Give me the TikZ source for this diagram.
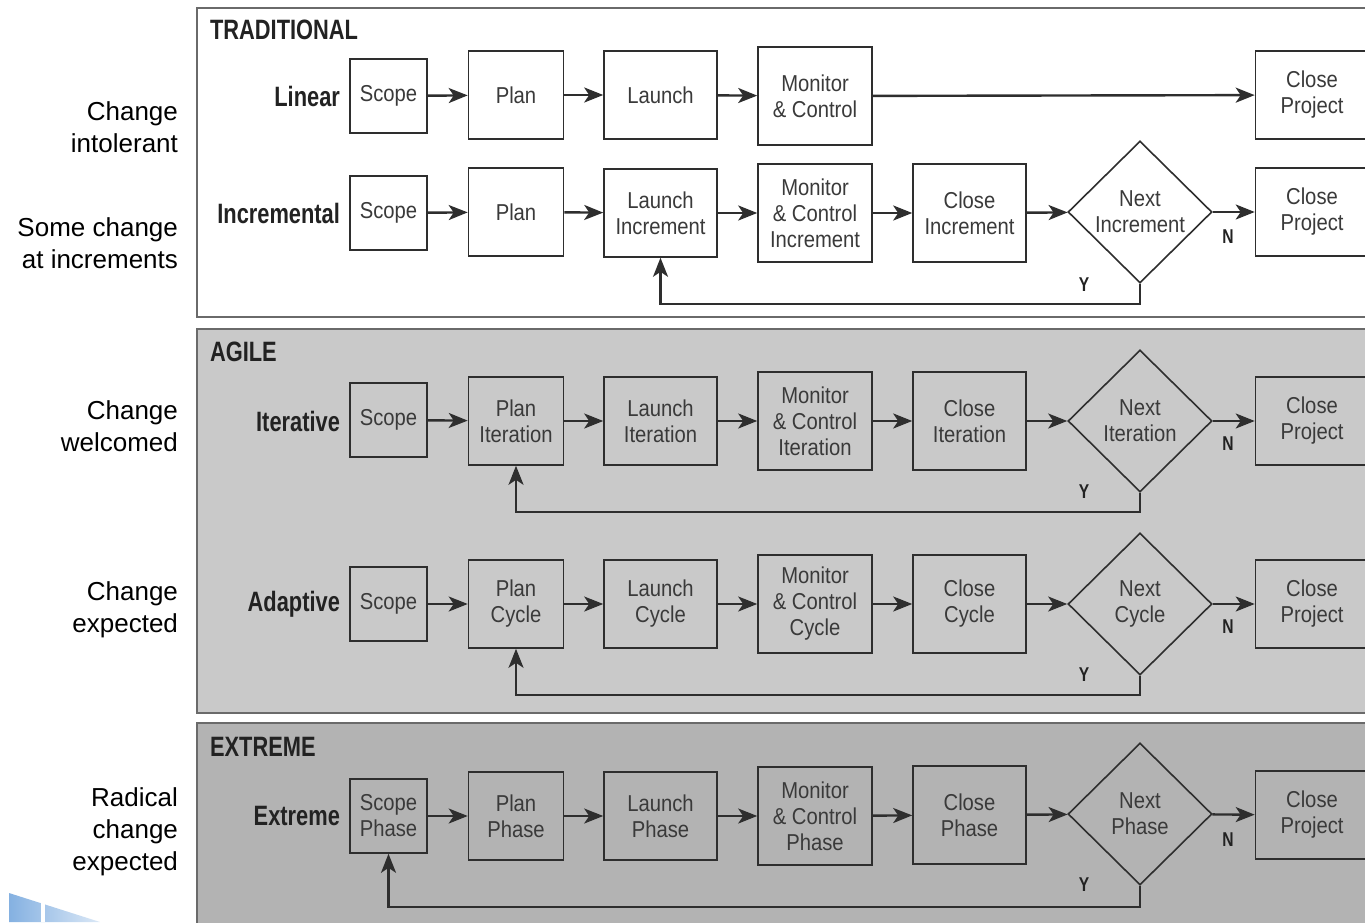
\documentclass[tikz,border=0pt]{standalone}
\usepackage{fontspec}
\setmainfont{Liberation Sans}
\newfontfamily\condfont[FakeStretch=0.88]{Liberation Sans}
\newfontfamily\condbold[FakeStretch=0.78]{Liberation Sans}
\usetikzlibrary{shapes.geometric,arrows.meta}
\definecolor{linec}{HTML}{2E2E2E}
\definecolor{textc}{HTML}{3A3A3A}
\definecolor{titlec}{HTML}{222222}
\definecolor{framec}{HTML}{6A6A6A}
\definecolor{agilefill}{HTML}{C9C9C9}
\definecolor{extremefill}{HTML}{B3B3B3}
\definecolor{decoblue}{HTML}{6FA3DC}
\tikzset{
  panel/.style={draw=framec, line width=1.1pt},
  paneltitle/.style={anchor=west, text=titlec, font=\condbold\bfseries\fontsize{14}{16}\selectfont},
  rowlabel/.style={anchor=east, text=titlec, font=\condbold\bfseries\fontsize{14}{16}\selectfont},
  sidenote/.style={anchor=east, align=right, text=black, font=\fontsize{13}{16}\selectfont},
  stepbox/.style={draw=linec, line width=0.8pt, align=center, inner sep=0pt, text=textc,
    font=\condfont\fontsize{11.5}{13}\selectfont},
  scopebox/.style={stepbox, minimum width=38.5pt, minimum height=37pt},
  planbox/.style={stepbox, minimum width=47.5pt, minimum height=44pt},
  launchbox/.style={stepbox, minimum width=56.5pt, minimum height=44pt},
  mcbox/.style={stepbox, minimum width=57pt, minimum height=49pt},
  closebox/.style={stepbox, minimum width=56.5pt, minimum height=49pt},
  projbox/.style={stepbox, minimum width=56.5pt, minimum height=44pt},
  decide/.style={diamond, draw=linec, line width=0.8pt, align=center, inner sep=0pt, text=textc,
    minimum width=72pt, minimum height=71pt, font=\condfont\fontsize{11.5}{13}\selectfont},
  flow/.style={draw=linec, line width=1.2pt, -{Stealth[length=9.5pt,width=7.5pt,inset=2.5pt]}},
  yn/.style={text=titlec, font=\condbold\bfseries\fontsize{10}{12}\selectfont},
}
\begin{document}
\begin{tikzpicture}[x=0.5pt,y=-0.5pt]
\useasboundingbox (0,0) rectangle (1365,922);
\clip (0,0) rectangle (1365,922);
\fill[white] (0,0) rectangle (1365,922);

% corner decoration
\shade[left color=decoblue!85, right color=decoblue!25] (9,893) -- (100,922) -- (9,922) -- cycle;
\draw[white, line width=2pt] (43,895) -- (43,922);

% panels
\draw[panel, fill=white] (197,8) rectangle (1380,317);
\draw[panel, fill=agilefill] (197,329) rectangle (1380,713);
\draw[panel, fill=extremefill] (197,723) rectangle (1380,940);

\node[paneltitle] (tTrad) at (203,30) {TRADITIONAL};
\node[paneltitle] (tAgile) at (203,352) {AGILE};
\node[paneltitle] (tExt) at (203,747) {EXTREME};

% side notes
\node[sidenote] (n1) at (185,127) {Change\\intolerant};
\node[sidenote] (n2) at (185,243) {Some change\\at increments};
\node[sidenote] (n3) at (185,426) {Change\\welcomed};
\node[sidenote] (n4) at (185,610) {Change\\expected};
\node[sidenote] (n5) at (185,832) {Radical\\change\\expected};

% ---------- Linear ----------
\node[rowlabel] (lLin) at (347,96) {Linear};
\node[scopebox] (a1) at (388.5,96) {Scope};
\node[planbox] (a2) at (516,95) {Plan};
\node[launchbox] (a3) at (660.5,95) {Launch};
\node[mcbox] (a4) at (815,96) {Monitor\\\& Control};
\node[projbox] (a5) at (1312,95) {Close\\Project};
\draw[flow] (a1) -- (a2);
\draw[flow] (a2) -- (a3);
\draw[flow] (a3) -- (a4);
\draw[flow] (a4) -- (a5);

% ---------- Incremental ----------
\node[rowlabel] (lInc) at (347,213) {Incremental};
\node[scopebox] (b1) at (388.5,213) {Scope};
\node[planbox] (b2) at (516,212) {Plan};
\node[launchbox] (b3) at (660.5,213) {Launch\\Increment};
\node[mcbox] (b4) at (815,213) {Monitor\\\& Control\\Increment};
\node[closebox] (b5) at (969.5,213) {Close\\Increment};
\node[decide] (b6) at (1140,212) {Next\\Increment};
\node[projbox] (b7) at (1312,212) {Close\\Project};
\draw[flow] (b1) -- (b2);
\draw[flow] (b2) -- (b3);
\draw[flow] (b3) -- (b4);
\draw[flow] (b4) -- (b5);
\draw[flow] (b5) -- (b6);
\draw[flow] (b6) -- (b7);
\draw[flow] (b6.south) -- ++(0,20) -| (b3.south);
\node[yn] (bN) at (1228,237) {N};
\node[yn] (bY) at (1084,285) {Y};

% ---------- Iterative ----------
\node[rowlabel] (lIt) at (347,421) {Iterative};
\node[scopebox] (c1) at (388.5,420) {Scope};
\node[planbox] (c2) at (516,421) {Plan\\Iteration};
\node[launchbox] (c3) at (660.5,421) {Launch\\Iteration};
\node[mcbox] (c4) at (815,421) {Monitor\\\& Control\\Iteration};
\node[closebox] (c5) at (969.5,421) {Close\\Iteration};
\node[decide] (c6) at (1140,421) {Next\\Iteration};
\node[projbox] (c7) at (1312,421) {Close\\Project};
\draw[flow] (c1) -- (c2);
\draw[flow] (c2) -- (c3);
\draw[flow] (c3) -- (c4);
\draw[flow] (c4) -- (c5);
\draw[flow] (c5) -- (c6);
\draw[flow] (c6) -- (c7);
\draw[flow] (c6.south) -- ++(0,19) -| (c2.south);
\node[yn] (cN) at (1228,444) {N};
\node[yn] (cY) at (1084,492) {Y};

% ---------- Adaptive ----------
\node[rowlabel] (lAd) at (347,604) {Adaptive};
\node[scopebox] (d1) at (388.5,604) {Scope};
\node[planbox] (d2) at (516,604) {Plan\\Cycle};
\node[launchbox] (d3) at (660.5,604) {Launch\\Cycle};
\node[mcbox] (d4) at (815,604) {Monitor\\\& Control\\Cycle};
\node[closebox] (d5) at (969.5,604) {Close\\Cycle};
\node[decide] (d6) at (1140,604) {Next\\Cycle};
\node[projbox] (d7) at (1312,604) {Close\\Project};
\draw[flow] (d1) -- (d2);
\draw[flow] (d2) -- (d3);
\draw[flow] (d3) -- (d4);
\draw[flow] (d4) -- (d5);
\draw[flow] (d5) -- (d6);
\draw[flow] (d6) -- (d7);
\draw[flow] (d6.south) -- ++(0,19) -| (d2.south);
\node[yn] (dN) at (1228,627) {N};
\node[yn] (dY) at (1084,675) {Y};

% ---------- Extreme ----------
\node[rowlabel] (lEx) at (347,816) {Extreme};
\node[scopebox] (e1) at (388.5,816) {Scope\\Phase};
\node[planbox] (e2) at (516,816) {Plan\\Phase};
\node[launchbox] (e3) at (660.5,816) {Launch\\Phase};
\node[mcbox] (e4) at (815,816) {Monitor\\\& Control\\Phase};
\node[closebox] (e5) at (969.5,815) {Close\\Phase};
\node[decide] (e6) at (1140,814) {Next\\Phase};
\node[projbox] (e7) at (1312,815) {Close\\Project};
\draw[flow] (e1) -- (e2);
\draw[flow] (e2) -- (e3);
\draw[flow] (e3) -- (e4);
\draw[flow] (e4) -- (e5);
\draw[flow] (e5) -- (e6);
\draw[flow] (e6) -- (e7);
\draw[flow] (e6.south) -- ++(0,21) -| (e1.south);
\node[yn] (eN) at (1228,840) {N};
\node[yn] (eY) at (1084,885) {Y};
\end{tikzpicture}
\end{document}
